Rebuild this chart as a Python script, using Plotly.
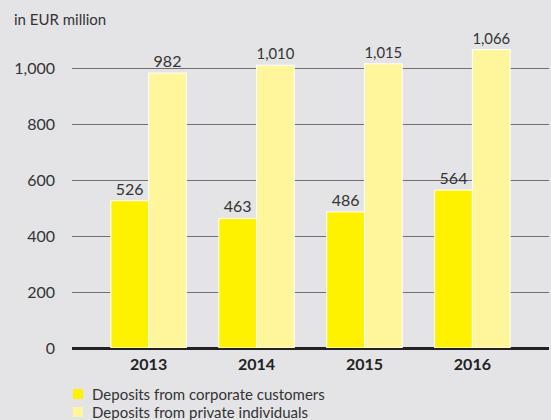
import plotly.graph_objects as go

years = ["2013", "2014", "2015", "2016"]
corporate = [526, 463, 486, 564]
private = [982, 1010, 1015, 1066]
series_names = ["Deposits from corporate customers", "Deposits from private individuals"]
series_colors = ["#fff200", "#fff59b"]
y_ticks = [0, 200, 400, 600, 800, 1000]
y_tick_text = ["0", "200", "400", "600", "800", "1,000"]

BG = "#e4e4e6"
FONT = "Lato"
TXT = "#333333"
W, H = 551, 420
M = dict(l=72, r=2, t=40, b=72)
PH = H - M["t"] - M["b"]
PW = W - M["l"] - M["r"]

fig = go.Figure()
for name, vals, color in zip(series_names, [corporate, private], series_colors):
    fig.add_trace(go.Bar(
        x=years, y=vals, name=name,
        marker=dict(color=color, line=dict(color="white", width=1)),
        text=[f"{v:,}" for v in vals], textposition="outside",
        textfont=dict(family=FONT, size=16, color=TXT),
        cliponaxis=False, showlegend=False,
    ))


def px_x(x):
    return (x - M["l"]) / PW


def px_y(y):
    return (H - M["b"] - y) / PH


# legend drawn below the axis: colour square + label per series
shapes, annotations = [], []
for i, (name, color) in enumerate(zip(series_names, series_colors)):
    cy = 394 + i * 18
    shapes.append(dict(type="rect", xref="paper", yref="paper",
                       x0=px_x(73), x1=px_x(83), y0=px_y(cy + 5), y1=px_y(cy - 5),
                       fillcolor=color, line=dict(width=0), layer="above"))
    annotations.append(dict(text=name, xref="paper", yref="paper",
                            x=px_x(90), y=px_y(cy), xanchor="left", yanchor="middle",
                            showarrow=False, font=dict(family=FONT, size=15, color=TXT)))

annotations.append(dict(text="in EUR million", xref="paper", yref="paper",
                        x=px_x(12), y=px_y(19), xanchor="left", yanchor="middle",
                        showarrow=False, font=dict(family=FONT, size=15, color=TXT)))

fig.update_layout(
    width=W, height=H,
    margin=dict(**M, autoexpand=False),
    paper_bgcolor=BG, plot_bgcolor=BG,
    barmode="group", bargap=0.3, bargroupgap=0,
    font=dict(family=FONT, color=TXT, size=14),
    showlegend=False,
    xaxis=dict(range=[-0.71, 3.71], showgrid=False, showline=False, ticks="",
               tickfont=dict(family=FONT, size=16, color="#222222", weight="bold"),
               ticklabelstandoff=5),
    yaxis=dict(range=[0, 1100], tickvals=y_ticks, ticktext=y_tick_text,
               showgrid=True, gridcolor="#707070", gridwidth=1,
               zeroline=True, zerolinecolor="#222222", zerolinewidth=2.5,
               showline=False, ticks="",
               tickfont=dict(family=FONT, size=16, color=TXT),
               ticklabelstandoff=16),
    shapes=shapes,
    annotations=annotations,
)

fig.write_html("out.html")
